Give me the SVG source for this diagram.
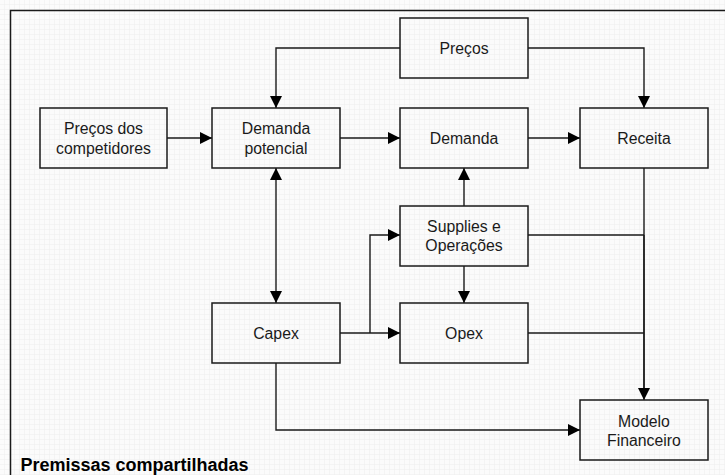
<svg xmlns="http://www.w3.org/2000/svg" width="725" height="475" viewBox="0 0 725 475">
  <defs>
    <pattern id="grid" width="5" height="5" patternUnits="userSpaceOnUse">
      <rect width="5" height="5" fill="#fbfbfb"/>
      <path d="M5,0 V5 M0,5 H5" fill="none" stroke="#eeeeee" stroke-width="1"/>
    </pattern>
    <marker id="arr" viewBox="0 0 12 12" markerWidth="12" markerHeight="12" refX="12" refY="6" orient="auto-start-reverse" markerUnits="userSpaceOnUse">
      <path d="M0,0 L12,6 L0,12 Z" fill="#000"/>
    </marker>
    <style>
      .box { fill: none; stroke: #1a1a1a; stroke-width: 1.5; }
      .lbl { font-family: "Liberation Sans", Arial, sans-serif; font-size: 15.8px; fill: #1a1a1a; text-anchor: middle; }
      .edge { fill: none; stroke: #1a1a1a; stroke-width: 1.4; }
      .title { font-family: "Liberation Sans", Arial, sans-serif; font-size: 18px; font-weight: bold; fill: #000; }
    </style>
  </defs>
  <rect width="725" height="475" fill="url(#grid)"/>
  <path d="M10.5,475 V10.5 H725" fill="none" stroke="#1a1a1a" stroke-width="1.5"/>
  <text class="title" x="20.5" y="470.5">Premissas compartilhadas</text>

  <g id="connectors">
    <path class="edge" d="M167,138 H212" marker-end="url(#arr)"/>
    <path class="edge" d="M400,48 H276 V108" marker-end="url(#arr)"/>
    <path class="edge" d="M528,48 H644 V108" marker-end="url(#arr)"/>
    <path class="edge" d="M340,138 H400" marker-end="url(#arr)"/>
    <path class="edge" d="M528,138 H580" marker-end="url(#arr)"/>
    <path class="edge" d="M276,168 V303" marker-start="url(#arr)" marker-end="url(#arr)"/>
    <path class="edge" d="M464,206 V168" marker-end="url(#arr)"/>
    <path class="edge" d="M464,266 V303" marker-end="url(#arr)"/>
    <path class="edge" d="M340,333 H400" marker-end="url(#arr)"/>
    <path class="edge" d="M370,333 V235 H400" marker-end="url(#arr)"/>
    <path class="edge" d="M528,235 H644"/>
    <path class="edge" d="M528,333 H644"/>
    <path class="edge" d="M644,168 V400" marker-end="url(#arr)"/>
    <path class="edge" d="M644,235 V388" stroke-width="2"/>
    <path class="edge" d="M276,363 V430 H580" marker-end="url(#arr)"/>
  </g>

  <g id="precos">
    <rect class="box" x="400" y="18" width="128" height="60"/>
    <text class="lbl" x="464" y="53.5">Preços</text>
  </g>
  <g id="precos-competidores">
    <rect class="box" x="40" y="108" width="127" height="60"/>
    <text class="lbl" x="103.5" y="134">Preços dos</text>
    <text class="lbl" x="103.5" y="154">competidores</text>
  </g>
  <g id="demanda-potencial">
    <rect class="box" x="212" y="108" width="128" height="60"/>
    <text class="lbl" x="276" y="134">Demanda</text>
    <text class="lbl" x="276" y="154">potencial</text>
  </g>
  <g id="demanda">
    <rect class="box" x="400" y="108" width="128" height="60"/>
    <text class="lbl" x="464" y="143.5">Demanda</text>
  </g>
  <g id="receita">
    <rect class="box" x="580" y="108" width="128" height="60"/>
    <text class="lbl" x="644" y="143.5">Receita</text>
  </g>
  <g id="supplies">
    <rect class="box" x="400" y="206" width="128" height="60"/>
    <text class="lbl" x="464" y="232">Supplies e</text>
    <text class="lbl" x="464" y="251">Operações</text>
  </g>
  <g id="capex">
    <rect class="box" x="212" y="303" width="128" height="60"/>
    <text class="lbl" x="276" y="338.5">Capex</text>
  </g>
  <g id="opex">
    <rect class="box" x="400" y="303" width="128" height="60"/>
    <text class="lbl" x="464" y="338.5">Opex</text>
  </g>
  <g id="modelo">
    <rect class="box" x="580" y="400" width="128" height="60"/>
    <text class="lbl" x="644" y="426.5">Modelo</text>
    <text class="lbl" x="644" y="446">Financeiro</text>
  </g>
</svg>
